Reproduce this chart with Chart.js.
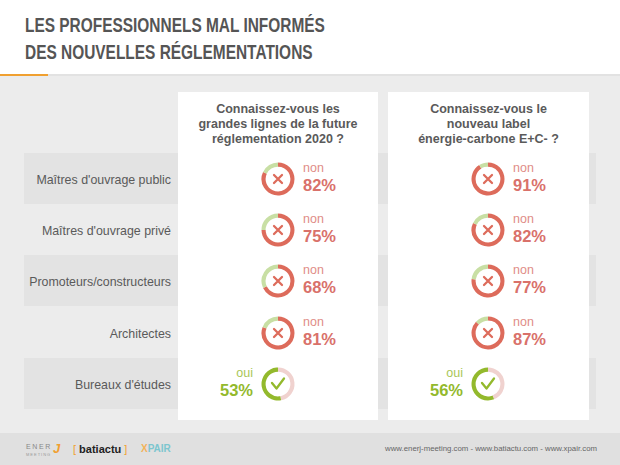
<!DOCTYPE html>
<html lang="fr">
<head>
<meta charset="utf-8">
<title>Les professionnels mal informés</title>
<script src="https://cdn.jsdelivr.net/npm/chart.js@4"></script>
<style>
  html, body { margin: 0; padding: 0; background: #fff; }
  #page { position: relative; width: 620px; height: 465px; overflow: hidden; font-family: "Liberation Sans", sans-serif; }
  #page div { position: absolute; }
  #title { left: 25px; top: 11px; font: bold 21px/27px "Liberation Sans", sans-serif; color: #555; white-space: nowrap; transform: scaleX(0.735); transform-origin: left top; }
  #rule { left: 0; top: 74px; width: 620px; height: 2px; background: #e2e2e2; }
  #accent { left: 0; top: 74px; width: 48px; height: 2px; background: #f0a030; }
  #back { left: 0; top: 76px; width: 620px; height: 357px; background: #ececec; }
  .band { left: 24px; width: 572px; height: 51px; background: #e3e3e3; }
  .card { top: 92px; height: 328px; background: #fff; }
  .question { top: 102px; text-align: center; font: bold 12.5px/15px "Liberation Sans", sans-serif; color: #5a5a5a; }
  .category { left: 24px; width: 147px; text-align: right; font-size: 12.4px; line-height: 16px; color: #5a5a5a; white-space: nowrap; }
  .word { font: 12.5px/14px "Liberation Sans", sans-serif; white-space: nowrap; opacity: 0.8; }
  .pct { font: bold 16.5px/19px "Liberation Sans", sans-serif; white-space: nowrap; }
  #footer { left: 0; top: 433px; width: 620px; height: 32px; background: #e0e0e0; }
  #sites { right: 23px; top: 443px; font-size: 7.8px; line-height: 12px; color: #666; white-space: nowrap; }
  .logo { white-space: nowrap; }
</style>
</head>
<body>
<div id="page">
  <div id="rule"></div>
  <div id="back"></div>
  <div id="accent"></div>
  <div id="title">LES PROFESSIONNELS MAL INFORMÉS<br>DES NOUVELLES RÉGLEMENTATIONS</div>
  <div id="footer"></div>
  <div class="logo" style="left:26px;top:442px;font-size:7px;line-height:9px;letter-spacing:1.6px;color:#888">ENER</div>
  <div class="logo" style="left:53px;top:441px;font-size:13px;line-height:15px;font-style:italic;font-weight:bold;color:#f0a030">J</div>
  <div class="logo" style="left:26px;top:452px;font-size:4px;line-height:5px;letter-spacing:1px;color:#999">MEETING</div>
  <div class="logo" style="left:73px;top:441px;font-size:11px;line-height:16px;font-weight:bold;color:#222"><span style="color:#f0a030;font-weight:normal">[</span> batiactu <span style="color:#f0a030;font-weight:normal">]</span></div>
  <div class="logo" style="left:141px;top:443px;font-size:10px;line-height:12px;font-weight:bold;color:#7cc6cf"><span style="color:#f3b35a">X</span>PAIR</div>
  <div id="sites">www.enerj-meeting.com - www.batiactu.com - www.xpair.com</div>
</div>

<script>
const categories = ["Maîtres d'ouvrage public", "Maîtres d'ouvrage privé", "Promoteurs/constructeurs", "Architectes", "Bureaux d'études"];
const questions = [
  "Connaissez-vous les<br>grandes lignes de la future<br>réglementation 2020 ?",
  "Connaissez-vous le<br>nouveau label<br>énergie-carbone E+C- ?"
];
const answers = ["non", "non", "non", "non", "oui"];
const valuesQ1 = [82, 75, 68, 81, 53];
const valuesQ2 = [91, 82, 77, 87, 56];

const page = document.getElementById("page");
const rowY = [179, 230, 281, 333, 384];
const cardX = [178, 388];
const cardW = [200, 201];
const donutX = [278, 488];

const RED = "#dd6b5b";
const RED_TEXT = "#d9716a";
const RED_LIGHT = "#f0d2cf";
const GREEN = "#93b92c";
const GREEN_LIGHT = "#c8dfa4";

function addDiv(className, style, html) {
    const el = document.createElement("div");
    el.className = className;
    Object.assign(el.style, style);
    if (html) el.innerHTML = html;
    page.appendChild(el);
    return el;
}

// X or check in the hole of the ring
const iconPlugin = {
    id: "icon",
    afterDraw(chart, args, opts) {
        const c = chart.ctx;
        const x = chart.width / 2;
        const y = chart.height / 2;
        c.save();
        c.strokeStyle = opts.color;
        c.lineWidth = 2.3;
        c.lineCap = "round";
        c.lineJoin = "round";
        c.beginPath();
        if (opts.kind === "non") {
            c.moveTo(x - 4, y - 4); c.lineTo(x + 4, y + 4);
            c.moveTo(x + 4, y - 4); c.lineTo(x - 4, y + 4);
        } else {
            c.moveTo(x - 6, y - 1); c.lineTo(x - 1.5, y + 4.5); c.lineTo(x + 6, y - 5.5);
        }
        c.stroke();
        c.restore();
    }
};

function drawRing(cx, cy, value, answer) {
    const canvas = document.createElement("canvas");
    canvas.width = 36;
    canvas.height = 36;
    canvas.style.display = "block";
    const holder = addDiv("ring", { left: (cx - 18) + "px", top: (cy - 18) + "px", width: "36px", height: "36px" });
    holder.appendChild(canvas);
    const isNo = answer === "non";
    new Chart(canvas, {
        type: "doughnut",
        data: {
            labels: ["non", "oui"],
            datasets: [{
                data: [isNo ? value : 100 - value, isNo ? 100 - value : value],
                backgroundColor: isNo ? [RED, GREEN_LIGHT] : [RED_LIGHT, GREEN],
                borderWidth: 0
            }]
        },
        options: {
            responsive: false,
            animation: false,
            cutout: "75%",
            radius: 16.5,
            plugins: {
                legend: { display: false },
                tooltip: { enabled: false },
                icon: { kind: answer, color: isNo ? RED : GREEN }
            }
        },
        plugins: [iconPlugin]
    });
}

[153, 255, 358].forEach(y => addDiv("band", { top: y + "px" }));

categories.forEach((name, i) => {
    addDiv("category", { top: (rowY[i] - 7) + "px" }, name);
});

[valuesQ1, valuesQ2].forEach((values, col) => {
    addDiv("card", { left: cardX[col] + "px", width: cardW[col] + "px" });
    addDiv("question", { left: cardX[col] + "px", width: cardW[col] + "px" }, questions[col]);

    values.forEach((value, i) => {
        const cx = donutX[col];
        const cy = rowY[i];
        const isNo = answers[i] === "non";
        drawRing(cx, cy, value, answers[i]);

        const color = isNo ? RED_TEXT : GREEN;
        const side = isNo
            ? { left: (cx + 25) + "px" }
            : { right: (620 - cx + 25) + "px" };
        addDiv("word", Object.assign({ top: (cy - 18) + "px", color: color }, side), answers[i]);
        addDiv("pct", Object.assign({ top: (cy - 3) + "px", color: color }, side), value + "%");
    });
});
</script>
</body>
</html>
